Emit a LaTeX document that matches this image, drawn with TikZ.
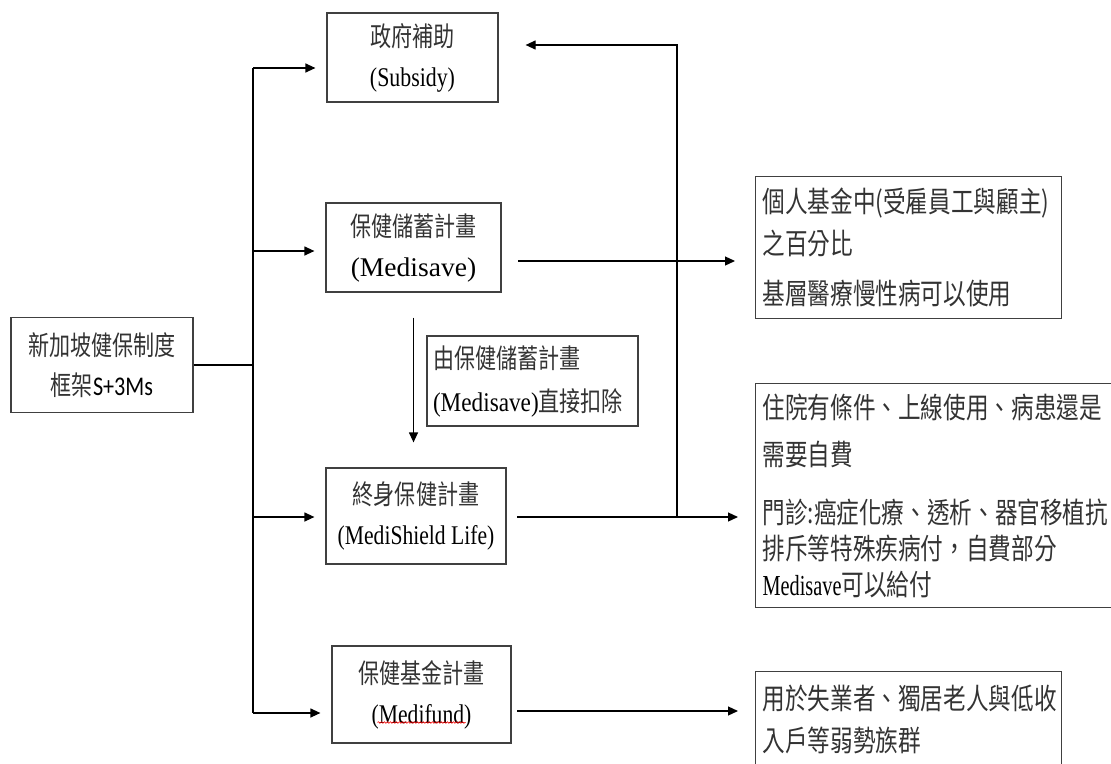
\documentclass[tikz,border=0pt]{standalone}
\usepackage{fontspec}
\usepackage{graphicx}
\setmainfont{Liberation Serif}
\newfontfamily\cjkfont[FakeStretch=0.78]{Noto Sans CJK TC}
\newfontfamily\sansf[FakeStretch=0.82]{Carlito}
\usetikzlibrary{arrows.meta, decorations.pathmorphing}
\newcommand\zh[1]{{\color{black!80}\cjkfont #1}}
\newcommand\sx[2]{\scalebox{#1}[1]{#2}}

\begin{document}
\begin{tikzpicture}[x=1pt,y=-1pt,
  box/.style={draw=black!75, line width=1.2pt, align=center, inner sep=0pt, font=\fontsize{27}{40}\selectfont},
  note/.style={draw=black!75, line width=1.2pt, align=left, anchor=north west, inner xsep=7pt, inner ysep=0pt, font=\fontsize{29}{36}\selectfont},
  arr/.style={line width=1.2pt, -{Triangle[length=10pt,width=9pt]}},
  link/.style={line width=1.2pt},
  spell/.style={red, line width=0.6pt, decorate, decoration={snake, segment length=3pt, amplitude=0.8pt}}]
      \useasboundingbox (0,0) rectangle (1111,763);
      \clip (0,0) rectangle (1111,763);

      % frame
      \node[box, minimum width=182pt, minimum height=95pt] (frame) at (102,365) {\zh{新加坡健保制度}\\\zh{框架}{\sansf S+3Ms}};

      % schemes
      \node[box, minimum width=171pt, minimum height=89pt] (subsidy) at (412.5,57.5) {\zh{政府補助}\\\sx{0.81}{(Subsidy)}};
      \node[box, minimum width=175pt, minimum height=89pt] (medisave) at (413.5,247.5) {\zh{保健儲蓄計畫}\\\sx{1.02}{(Medisave)}};
      \node[box, minimum width=180pt, minimum height=96pt] (medishield) at (416,516) {\zh{終身保健計畫}\\\sx{0.8}{(MediShield Life)}};
      \node[box, minimum width=179pt, minimum height=97pt] (medifund) at (421.5,694.5) {\zh{保健基金計畫}\\\sx{0.8}{(Medifund)}};
      \node[box, align=left, text width=199pt, inner xsep=6pt, minimum height=90pt, font=\fontsize{27}{43}\selectfont] (deduct) at (532.5,381) {\zh{由保健儲蓄計畫}\\\sx{0.86}{(Medisave)}\zh{直接扣除}};
      \draw[spell] ([shift={(-44pt,-28pt)}]medifund.center) -- ++(88,0); % spell mark

      % notes
      \node[note, text width=292pt, minimum height=142pt] (savenote) at (755,176) {\zh{個人基金中(受雇員工與顧主)}\\[6pt]\zh{之百分比}\\[14pt]\zh{基層醫療慢性病可以使用}};
      \node[note, text width=345pt, minimum height=224pt] (shieldnote) at (755,383) {\zh{住院有條件、上線使用、病患還是}\\[11pt]\zh{需要自費}\\[22pt]\zh{門診:癌症化療、透析、器官移植抗}\\\zh{排斥等特殊疾病付，自費部分}\\\sx{0.7}{Medisave}\zh{可以給付}};
      \node[note, text width=292pt, minimum height=95pt] (fundnote) at (755,671) {\zh{用於失業者、獨居老人與低收}\\[6pt]\zh{入戶等弱勢族群}};

      % trunk
      \coordinate (trunktop) at (253,68);
      \coordinate (trunksave) at (253,251);
      \coordinate (trunkshield) at (253,517);
      \coordinate (trunkbot) at (253,713);
      \draw[link] (frame.east) -- (frame.east -| trunktop);
      \draw[link] (trunktop) -- (trunkbot);
      \draw[arr] (trunktop) -- ([xshift=-11pt]subsidy.west |- trunktop);
      \draw[arr] (trunksave) -- ([xshift=-11pt]medisave.west |- trunksave);
      \draw[arr] (trunkshield) -- ([xshift=-11pt]medishield.west |- trunkshield);
      \draw[arr] (trunkbot) -- ([xshift=-11pt]medifund.west |- trunkbot);

      % deduction
      \draw[arr] ([yshift=-25pt]medisave.south) -- ([yshift=25pt]medisave.south |- medishield.north);

      % to the notes
      \coordinate (saveout) at (518,261);
      \coordinate (shieldout) at (517,517);
      \coordinate (fundout) at (517,711);
      \coordinate (joint) at (677,517);
      \coordinate (back) at (677,45);
      \draw[arr] (saveout) -- ([xshift=-20pt]savenote.west |- saveout);
      \draw[arr] (shieldout) -- ([xshift=-17pt]shieldnote.west |- shieldout);
      \draw[arr] (fundout) -- ([xshift=-17pt]fundnote.west |- fundout);
      \draw[arr] (joint) -- (back) -- ([xshift=27pt]subsidy.east |- back); % back to subsidy
\end{tikzpicture}
\end{document}
